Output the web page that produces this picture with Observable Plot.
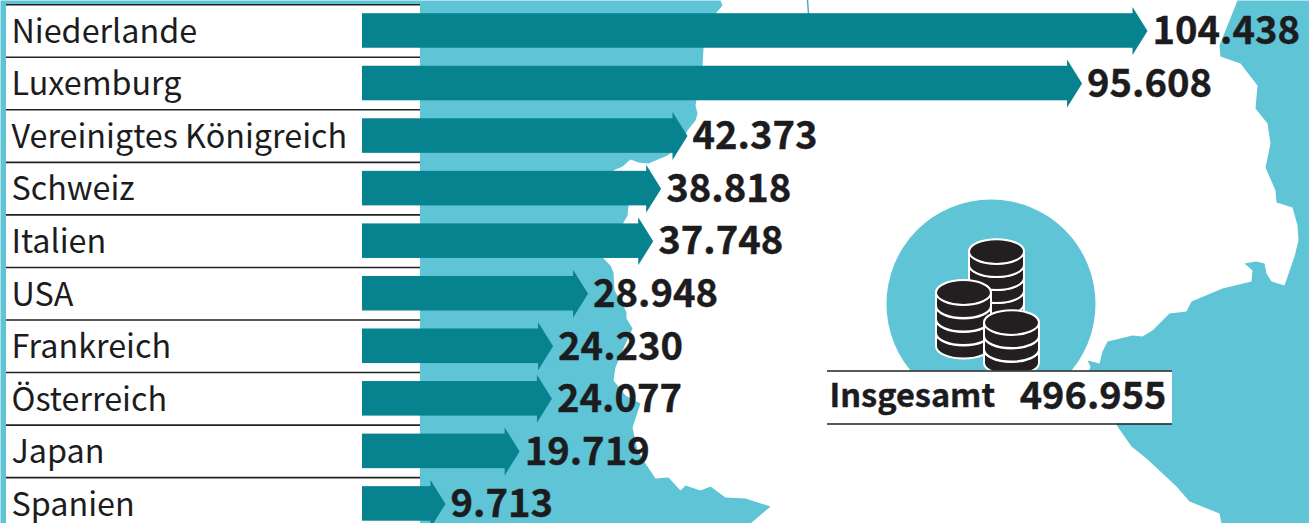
<!DOCTYPE html>
<html lang="de">
<head>
<meta charset="utf-8">
<script src="https://cdn.jsdelivr.net/npm/d3@7"></script>
<script src="https://cdn.jsdelivr.net/npm/@observablehq/plot@0.6"></script>
<style>
  html, body { margin: 0; padding: 0; background: #fff; }
  #stage { position: relative; width: 1309px; height: 523px; overflow: hidden; }
  #stage svg { position: absolute; left: 0; top: 0; background: transparent; }
</style>
</head>
<body>
<div id="stage"></div>
<script>
// Data
const countries = ["Niederlande","Luxemburg","Vereinigtes Königreich","Schweiz","Italien","USA","Frankreich","Österreich","Japan","Spanien"];
const amounts = [104438,95608,42373,38818,37748,28948,24230,24077,19719,9713];
const amountLabels = ["104.438","95.608","42.373","38.818","37.748","28.948","24.230","24.077","19.719","9.713"];
const totalLabel = "Insgesamt";
const totalValue = "496.955";

// Map backdrop outlines
const westOutline = [[0,0],[720,0],[722,5],[716,12],[703,48],[702,65],[695,105],[697,113],[695,120],[687,130],[680,145],[667,155],[648,163],[638,162],[630,159],[622,166],[613,170],[628,205],[627,215],[603,258],[610,265],[613,272],[614,290],[623,305],[626,312],[626,318],[632,328],[622,350],[615,367],[613,380],[625,395],[640,403],[632,427],[637,450],[645,463],[655,478],[668,477],[680,490],[685,485],[700,490],[710,486],[725,497],[745,498],[770,506],[750,523],[0,523]];
const eastOutline = [[1237,0],[1219,45],[1220,56],[1240,63],[1257,85],[1255,108],[1267,123],[1270,143],[1265,167],[1275,190],[1276,202],[1292,207],[1297,225],[1298,240],[1294,256],[1284,285],[1271,281],[1266,273],[1264,263],[1256,261],[1244,263],[1252,270],[1251,281],[1222,288],[1191,301],[1186,311],[1169,313],[1152,330],[1142,336],[1132,335],[1107,341],[1102,351],[1099,363],[1087,360],[1090,366],[1088,372],[1117,426],[1131,446],[1146,458],[1176,486],[1189,501],[1219,513],[1221,523],[1309,523],[1309,0]];
const river = [[807,0],[808,13]];
const badge = [[990.5,303.5]];
const coins = [
  [996,303],[996,290],[996,277],[996,264],[996,251],
  [963,332.5],[963,319],[963,305.5],[963,292],
  [1011,349],[1011,335.5],[1011,322]
];

// Styles
const sea = "#5fc4d6", teal = "#07828f", ink = "#1c1c1e";
const face = "'Noto Sans CJK SC', 'Noto Sans', sans-serif";

const coinSymbol = {
  draw(c, size) {
    const r = Math.sqrt(size / Math.PI), ry = r * 0.45, h = r * 0.48, k = 0.5523;
    c.moveTo(-r, 0);
    c.bezierCurveTo(-r, -ry*k, -r*k, -ry, 0, -ry);
    c.bezierCurveTo(r*k, -ry, r, -ry*k, r, 0);
    c.lineTo(r, h);
    c.bezierCurveTo(r, h+ry*k, r*k, h+ry, 0, h+ry);
    c.bezierCurveTo(-r*k, h+ry, -r, h+ry*k, -r, h);
    c.closePath();
    c.moveTo(r, 0);
    c.bezierCurveTo(r, ry*k, r*k, ry, 0, ry);
    c.bezierCurveTo(-r*k, ry, -r, ry*k, -r, 0);
  }
};
const headSymbol = {
  draw(c) { c.moveTo(0, 0); c.lineTo(-15, -24); c.lineTo(-15, 24); c.closePath(); }
};

const px = d => d[0], py = d => d[1];
const backdrop = Plot.plot({
  width: 1309, height: 523, margin: 0,
  x: {domain: [0, 1309], range: [0, 1309], axis: null},
  y: {domain: [0, 523], range: [0, 523], axis: null},
  marks: [
    Plot.line(westOutline, {x: px, y: py, fill: sea, stroke: "none", curve: "linear-closed"}),
    Plot.line(eastOutline, {x: px, y: py, fill: sea, stroke: "none", curve: "linear-closed"}),
    Plot.line(river, {x: px, y: py, stroke: "#5aa9b5", strokeWidth: 1.5}),
    Plot.rect([[6,4,420,523]], {x1: d => d[0], y1: d => d[1], x2: d => d[2], y2: d => d[3], fill: "#fff"}),
    Plot.dot(badge, {x: px, y: py, r: 104.5, fill: sea}),
    Plot.dot(coins, {x: px, y: py, r: 27.5, symbol: coinSymbol, fill: "#231f20", stroke: "#fff", strokeWidth: 2}),
    Plot.rect([[827,370.5,1172,423.5]], {x1: d => d[0], y1: d => d[1], x2: d => d[2], y2: d => d[3], fill: "#fff"}),
    Plot.ruleY([370.5, 423.5], {x1: 827, x2: 1172, stroke: "#222", strokeWidth: 1.6}),
    Plot.text([totalLabel], {x: 829, y: 396, text: d => d, textAnchor: "start", fontFamily: face, fontWeight: 700, fontSize: 32.5, fill: ink, stroke: ink, strokeWidth: 0.4}),
    Plot.text([totalValue], {x: 1166, y: 396, text: d => d, textAnchor: "end", fontFamily: face, fontWeight: 700, fontSize: 38, fill: ink, stroke: ink, strokeWidth: 0.4})
  ]
});

// Value scale: 0 and the top value sit where the arrow tips put them
const rows = countries.map((name, i) => ({name, amount: amounts[i], label: amountLabels[i]}));
const unit = 702 / 94725;                 // pixels per unit of value
const toValue = p => (p - 373) / unit;    // pixel position expressed in value units

const chart = Plot.plot({
  width: 1309, height: 523, margin: 0,
  x: {domain: [toValue(0), toValue(1309)], range: [0, 1309], axis: null},
  y: {domain: countries, range: [4.2, 529.7], padding: 0, round: false, axis: null},
  marks: [
    Plot.ruleY(countries, {y: d => d, x1: toValue(6), x2: toValue(420), dy: -26.3, stroke: "#222", strokeWidth: 1.6}),
    Plot.barX(rows, {y: "name", x1: toValue(362), x2: "amount", insetRight: 13, insetTop: 9, insetBottom: 9, fill: teal}),
    Plot.dot(rows, {x: "amount", y: "name", symbol: headSymbol, r: 10, fill: teal}),
    Plot.text(rows, {y: "name", text: "name", frameAnchor: "left", dx: 11, dy: 1.5, fontFamily: face, fontSize: 32.3, fill: ink}),
    Plot.text(rows, {x: "amount", y: "name", text: "label", textAnchor: "start", dx: 5, dy: 1, fontFamily: face, fontWeight: 700, fontSize: 38.2, fill: ink, stroke: ink, strokeWidth: 0.4})
  ]
});

const stage = document.getElementById("stage");
stage.append(backdrop, chart);
</script>
</body>
</html>
